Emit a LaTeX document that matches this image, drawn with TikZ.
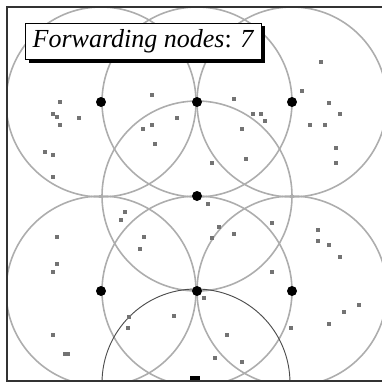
\documentclass[tikz,border=0pt]{standalone}
\usepackage{fontspec}
\setmainfont{Liberation Serif}
\usetikzlibrary{shadows, backgrounds}

\begin{document}
\begin{tikzpicture}[
    x=0.75pt, y=-0.75pt,
    fwd/.style={draw=none, circle, fill=black, inner sep=0pt, minimum size=7.5pt},
    host/.style={draw=none, rectangle, fill=black!55, inner sep=0pt, minimum size=2.6pt},
    src/.style={draw=none, rectangle, fill=black, inner sep=0pt, minimum width=7.5pt, minimum height=5pt},
    reach/.style={draw=black!32, line width=1.2pt},
    srcreach/.style={draw=black!70, line width=0.7pt},
    info/.style={draw, fill=white, line width=0.8pt, minimum width=177pt, minimum height=27.5pt,
                 font=\fontsize{19.5}{22}\selectfont,
                 drop shadow={shadow xshift=2.3pt, shadow yshift=-2.3pt, fill=black, opacity=1}}
]
\useasboundingbox (0,0) rectangle (382,383);

% Nodes
\node[fwd] (F1) at (101,102) {};
\node[fwd] (F2) at (197,102) {};
\node[fwd] (F3) at (292,102) {};
\node[fwd] (F4) at (197,196) {};
\node[fwd] (F5) at (101,291) {};
\node[fwd] (F6) at (197,291) {};
\node[fwd] (F7) at (292,291) {};
\node[src] (S) at (195,379) {};

% Reichweite
\begin{scope}[on background layer]
\clip (7,7) rectangle (382,381);
\draw[reach] (F1) circle[radius=95]; \draw[reach] (F2) circle[radius=95];
\draw[reach] (F3) circle[radius=95]; \draw[reach] (F4) circle[radius=95];
\draw[reach] (F5) circle[radius=95]; \draw[reach] (F6) circle[radius=95];
\draw[reach] (F7) circle[radius=95];
\draw[srcreach] (196,383) circle[radius=94];
\end{scope}

% Knoten
\node[host] (h1) at (60,102) {}; \node[host] (h2) at (53,114) {}; \node[host] (h3) at (57,117) {};
\node[host] (h4) at (79,118) {}; \node[host] (h5) at (60,125) {}; \node[host] (h6) at (45,152) {};
\node[host] (h7) at (53,155) {}; \node[host] (h8) at (53,177) {}; \node[host] (h9) at (152,95) {};
\node[host] (h10) at (177,118) {}; \node[host] (h11) at (152,125) {}; \node[host] (h12) at (143,129) {};
\node[host] (h13) at (155,144) {}; \node[host] (h14) at (321,62) {}; \node[host] (h15) at (302,91) {};
\node[host] (h16) at (234,99) {}; \node[host] (h17) at (329,103) {}; \node[host] (h18) at (340,114) {};
\node[host] (h19) at (253,114) {}; \node[host] (h20) at (261,114) {}; \node[host] (h21) at (265,121) {};
\node[host] (h22) at (310,125) {}; \node[host] (h23) at (325,125) {}; \node[host] (h24) at (242,129) {};
\node[host] (h25) at (336,148) {}; \node[host] (h26) at (246,159) {}; \node[host] (h27) at (212,163) {};
\node[host] (h28) at (336,163) {}; \node[host] (h29) at (125,212) {}; \node[host] (h30) at (121,220) {};
\node[host] (h31) at (57,237) {}; \node[host] (h32) at (144,237) {}; \node[host] (h33) at (140,249) {};
\node[host] (h34) at (57,264) {}; \node[host] (h35) at (53,272) {}; \node[host] (h36) at (129,317) {};
\node[host] (h37) at (128,328) {}; \node[host] (h38) at (174,316) {}; \node[host] (h39) at (53,335) {};
\node[host] (h40) at (65,354) {}; \node[host] (h41) at (68,354) {}; \node[host] (h42) at (208,204) {};
\node[host] (h43) at (272,223) {}; \node[host] (h44) at (219,227) {}; \node[host] (h45) at (234,234) {};
\node[host] (h46) at (212,238) {}; \node[host] (h47) at (318,230) {}; \node[host] (h48) at (318,241) {};
\node[host] (h49) at (329,245) {}; \node[host] (h50) at (340,257) {}; \node[host] (h51) at (272,272) {};
\node[host] (h52) at (204,298) {}; \node[host] (h53) at (359,305) {}; \node[host] (h54) at (344,312) {};
\node[host] (h55) at (329,324) {}; \node[host] (h56) at (291,328) {}; \node[host] (h57) at (227,335) {};
\node[host] (h58) at (215,358) {}; \node[host] (h59) at (242,362) {};

% Rahmen
\draw[black!80, line width=0.8pt] (382,7) -- (7,7) -- (7,381) -- (382,381);

% Beschriftung
\node[info] (I) at (143.5,41.5) {\textit{Forwarding nodes}: \textit{7}};

\end{tikzpicture}
\end{document}
